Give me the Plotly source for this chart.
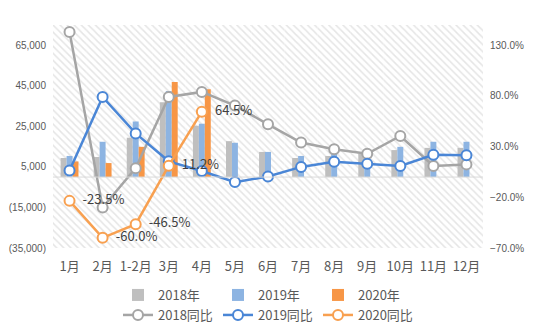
import plotly.graph_objects as go

categories = ["1月", "2月", "1-2月", "3月", "4月", "5月", "6月", "7月", "8月", "9月", "10月", "11月", "12月"]

sales_2018 = [9400, 9900, 19400, 36900, 25300, 17700, 12400, 9400, 10400, 11600, 13300, 14400, 14400]
sales_2019 = [10400, 17400, 27400, 42400, 26300, 16900, 12400, 10400, 11600, 8300, 14900, 17400, 17400]
sales_2020 = [7700, 6900, 14900, 46900, 43300, None, None, None, None, None, None, None, None]

yoy_2018 = [1.43, -0.30, 0.088, 0.79, 0.84, 0.705, 0.52, 0.34, 0.275, 0.23, 0.405, 0.11, 0.125]
yoy_2019 = [0.065, 0.79, 0.43, 0.155, 0.06, -0.05, 0.005, 0.10, 0.15, 0.13, 0.11, 0.22, 0.215]
yoy_2020 = [-0.235, -0.60, -0.465, 0.112, 0.645, None, None, None, None, None, None, None, None]

left_ticks = [-35000, -15000, 5000, 25000, 45000, 65000]
left_tick_text = ["(35,000)", "(15,000)", "5,000", "25,000", "45,000", "65,000"]
right_ticks = [-0.7, -0.2, 0.3, 0.8, 1.3]

bar_names = ["2018年", "2019年", "2020年"]
line_names = ["2018同比", "2019同比", "2020同比"]

LEFT_MIN, LEFT_MAX = -35000, 75000
RIGHT_MIN, RIGHT_MAX = -0.7, 1.5

bar_colors = ["#BFBFBF", "#8DB4E2", "#F79646"]
line_colors = ["#A5A5A5", "#4A86D6", "#F8A050"]
FONT = "Noto Sans CJK SC, Liberation Sans, sans-serif"
TXT = "#595959"

fig = go.Figure()

# hatched plot background
fig.add_trace(go.Bar(
    x=categories, y=[LEFT_MAX - LEFT_MIN] * len(categories), base=LEFT_MIN,
    width=1, offset=-0.5,
    marker=dict(color="white", line=dict(width=0),
                pattern=dict(shape="\\", size=5, solidity=0.3, fgcolor="#CCCCCC", bgcolor="white")),
    showlegend=False, hoverinfo="skip", yaxis="y",
))

offsets = [-0.27, -0.09, 0.09]
for name, vals, col, off in zip(bar_names, [sales_2018, sales_2019, sales_2020], bar_colors, offsets):
    fig.add_trace(go.Bar(
        x=categories, y=vals, name=name, width=0.18, offset=off,
        marker=dict(color=col, line=dict(width=0)),
        legend="legend", yaxis="y",
    ))

for name, vals, col in zip(line_names, [yoy_2018, yoy_2019, yoy_2020], line_colors):
    is2020 = name == "2020同比"
    fig.add_trace(go.Scatter(
        x=categories, y=vals, name=name, yaxis="y2",
        mode="lines+markers+text" if is2020 else "lines+markers",
        line=dict(color=col, width=2.5),
        marker=dict(symbol="circle", size=10, color="white", line=dict(color=col, width=2)),
        text=[("  " + f"{v*100:.1f}%") if v is not None else "" for v in vals] if is2020 else None,
        textposition="middle right",
        textfont=dict(size=13, color="#404040", family=FONT),
        legend="legend2", cliponaxis=False,
    ))

fig.add_shape(type="line", xref="paper", yref="y", x0=0, x1=1, y0=0, y1=0,
              line=dict(color="#D9D9D9", width=1), layer="above")

legend_common = dict(orientation="h", xref="container", yref="container", xanchor="left", yanchor="middle",
                     entrywidth=55, entrywidthmode="pixels", font=dict(size=13, color=TXT),
                     bgcolor="rgba(0,0,0,0)", itemwidth=30, tracegroupgap=0)

fig.update_layout(
    width=553, height=333,
    margin=dict(l=53, r=70, t=25, b=85, autoexpand=False),
    paper_bgcolor="white", plot_bgcolor="white",
    barmode="overlay",
    font=dict(family=FONT, color=TXT),
    xaxis=dict(type="category", range=[-0.5, 12.5], showgrid=False, showline=False,
               tickfont=dict(size=13, color=TXT), ticks="", ticklabelstandoff=9),
    yaxis=dict(range=[LEFT_MIN, LEFT_MAX], tickvals=left_ticks, ticktext=left_tick_text,
               showgrid=False, zeroline=False, showline=False,
               tickfont=dict(size=10, color=TXT, family="Liberation Sans, sans-serif"), ticklabelstandoff=6),
    yaxis2=dict(range=[RIGHT_MIN, RIGHT_MAX], overlaying="y", side="right", tickvals=right_ticks,
                tickformat=".1%", showgrid=False, zeroline=False, showline=False,
                tickfont=dict(size=10, color=TXT, family="Liberation Sans, sans-serif"), ticklabelstandoff=6),
    legend=dict(x=118 / 553, y=1 - 295 / 333, **legend_common),
    legend2=dict(x=118 / 553, y=1 - 315 / 333, **legend_common),
    showlegend=True,
)

fig.write_html("out.html")
